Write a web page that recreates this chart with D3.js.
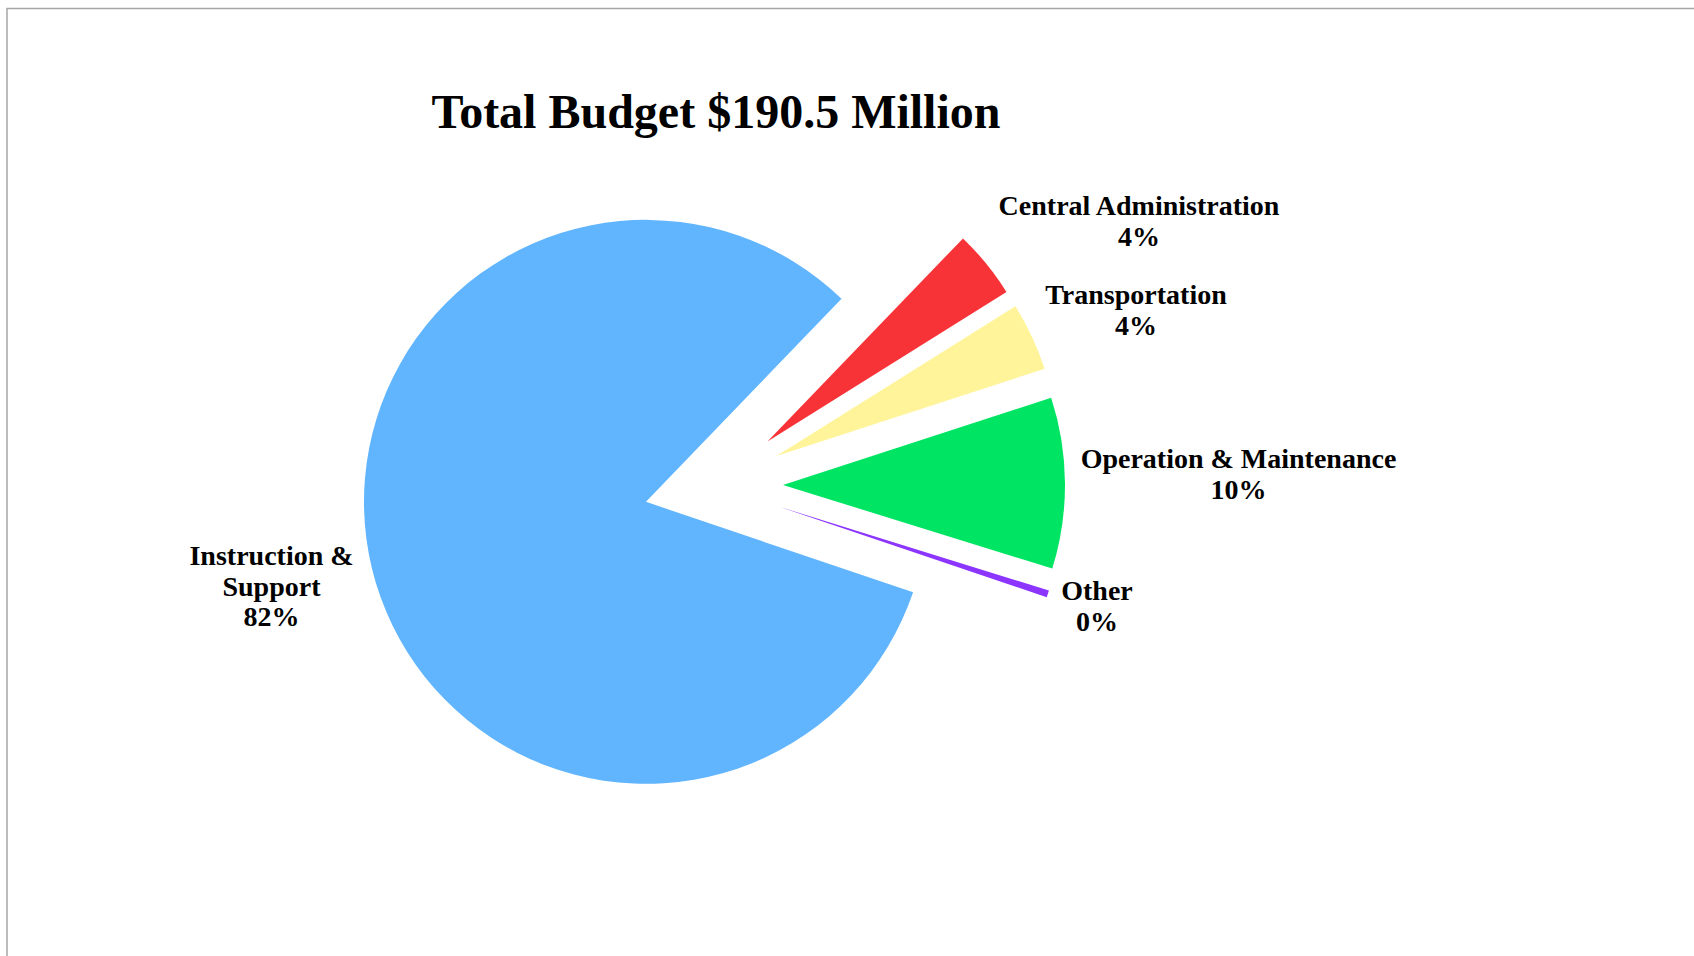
<!DOCTYPE html>
<html>
<head>
<meta charset="utf-8">
<script src="https://cdn.jsdelivr.net/npm/d3@7/dist/d3.min.js"></script>
<style>
  html, body { margin: 0; padding: 0; background: #ffffff; }
  svg { display: block; }
  text { font-family: "Liberation Serif", "Times New Roman", serif; font-weight: bold; fill: #000; }
</style>
</head>
<body>
<svg id="chart" width="1694" height="956"></svg>
<script>
// ---- data ----
const categories = ["Instruction & Support", "Central Administration", "Transportation", "Operation & Maintenance", "Other"];
const values = [82.0, 3.9, 3.9, 9.8, 0.4];
const percentLabels = ["82%", "4%", "4%", "10%", "0%"];
const labelLines = [["Instruction &", "Support"], ["Central Administration"], ["Transportation"], ["Operation & Maintenance"], ["Other"]];
const colors = ["#61b5fe", "#f73338", "#fff49a", "#00e463", "#8b35ff"];
const title = "Total Budget $190.5 Million";

// ---- layout ----
const W = 1694, H = 956;
const cx = 713.5, cy = 485.4, R = 282, explode = 69.5;
const startDeg = 108.7;
const labelPos = [[271.5, 565], [1139, 215], [1136, 304], [1238.5, 468], [1097, 600]];
const lineH = 30.5;

const svg = d3.select("#chart");

// frame
svg.append("rect")
  .attr("x", 7).attr("y", 8.5)
  .attr("width", W + 20).attr("height", H + 20)
  .attr("fill", "none").attr("stroke", "#a6a6a6").attr("stroke-width", 1.5);

// title
svg.append("text")
  .attr("x", 716).attr("y", 128)
  .attr("text-anchor", "middle")
  .attr("font-size", 48)
  .text(title);

const pie = d3.pie().sort(null)
  .startAngle(startDeg * Math.PI / 180)
  .endAngle(startDeg * Math.PI / 180 + 2 * Math.PI);
const arcs = pie(values);
const arc = d3.arc().innerRadius(0).outerRadius(R);

const g = svg.append("g").attr("transform", `translate(${cx},${cy})`);
g.selectAll("path").data(arcs).enter().append("path")
  .attr("d", arc)
  .attr("fill", (d, i) => colors[i])
  .attr("transform", d => {
    const m = (d.startAngle + d.endAngle) / 2;
    return `translate(${explode * Math.sin(m)},${-explode * Math.cos(m)})`;
  });

// labels
categories.forEach((c, i) => {
  const t = svg.append("text")
    .attr("text-anchor", "middle")
    .attr("font-size", 28);
  const lines = labelLines[i].concat([percentLabels[i]]);
  lines.forEach((ln, k) => {
    t.append("tspan")
      .attr("x", labelPos[i][0])
      .attr("y", labelPos[i][1] + k * lineH)
      .text(ln);
  });
});
</script>
</body>
</html>
